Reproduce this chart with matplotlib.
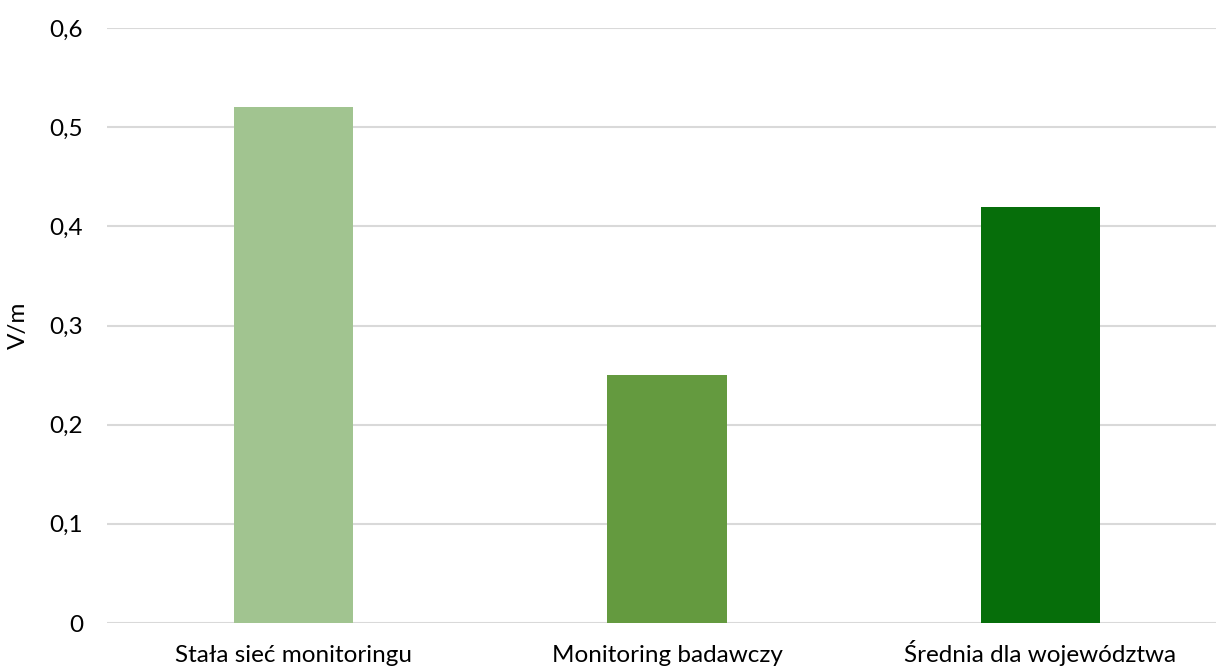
import matplotlib
matplotlib.use("Agg")
import matplotlib.pyplot as plt
from matplotlib.ticker import FuncFormatter

categories = ["Stała sieć monitoringu", "Monitoring badawczy", "Średnia dla województwa"]
values = [0.52, 0.25, 0.42]
colors = ["#A1C490", "#649A3F", "#066E0A"]
y_ticks = [0, 0.1, 0.2, 0.3, 0.4, 0.5, 0.6]

plt.rcParams["font.family"] = ["Lato", "DejaVu Sans"]

W, H = 1216, 668
fig = plt.figure(figsize=(W / 100, H / 100), dpi=100)
left, right, top, bottom = 107, 1216, 28, 623
ax = fig.add_axes([left / W, 1 - bottom / H, (right - left) / W, (bottom - top) / H])

x = range(len(categories))
ax.bar(x, values, width=0.32, color=colors, zorder=3)

ax.set_xlim(-0.5, 2.5 - 11 / 373.5)
ax.set_ylim(0, 0.6)
ax.set_yticks(y_ticks)
ax.yaxis.set_major_formatter(FuncFormatter(lambda v, p: "0" if v == 0 else f"{v:.1f}".replace(".", ",")))
ax.set_xticks(list(x))
ax.set_xticklabels(categories)

ax.grid(axis="y", color="#D9D9D9", linewidth=1.5, zorder=0)
for s in ax.spines.values():
    s.set_visible(False)
px = 72 / 100  # points per pixel
ax.tick_params(axis="both", length=0, labelsize=17.5, colors="#000000")
ax.tick_params(axis="y", pad=24 * px)
ax.tick_params(axis="x", pad=39 * px)
for lbl in ax.get_xticklabels():
    lbl.set_verticalalignment("baseline")
ax.set_ylabel("V/m", fontsize=17.5)
ax.yaxis.set_label_coords((29 - left) / (right - left), 0.5)

fig.savefig("out.png", dpi=100, facecolor="white")
